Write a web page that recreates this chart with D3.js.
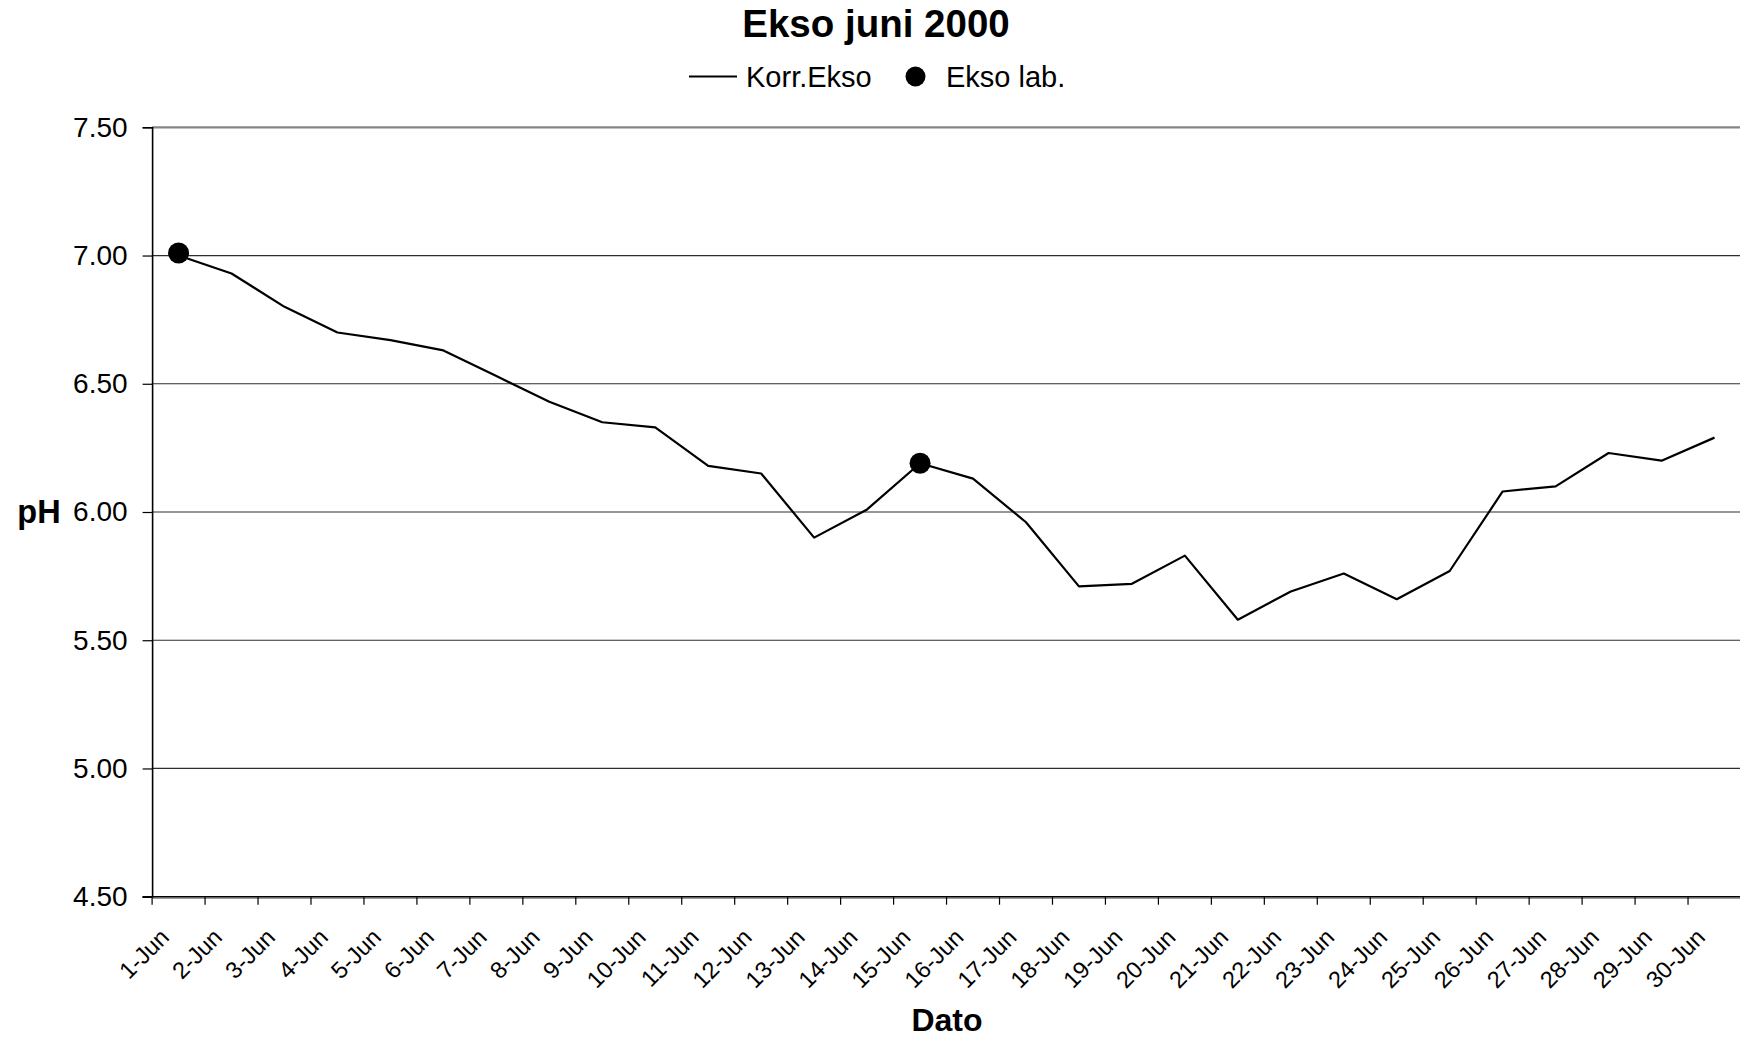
<!DOCTYPE html>
<html>
<head>
<meta charset="utf-8">
<script src="https://cdn.jsdelivr.net/npm/d3@7"></script>
<style>
  html, body { margin: 0; padding: 0; background: #fff; }
  svg { display: block; font-family: "Liberation Sans", Arial, sans-serif; }
</style>
</head>
<body>
<svg id="chart" width="1740" height="1040"></svg>
<script>
// Daily dates for June 2000
const dates = ["1-Jun","2-Jun","3-Jun","4-Jun","5-Jun","6-Jun","7-Jun","8-Jun","9-Jun","10-Jun",
  "11-Jun","12-Jun","13-Jun","14-Jun","15-Jun","16-Jun","17-Jun","18-Jun","19-Jun","20-Jun",
  "21-Jun","22-Jun","23-Jun","24-Jun","25-Jun","26-Jun","27-Jun","28-Jun","29-Jun","30-Jun"];

// Corrected online pH (Korr.Ekso)
const korrEkso = [7.00, 6.93, 6.80, 6.70, 6.67, 6.63, 6.53, 6.43, 6.35, 6.33,
  6.18, 6.15, 5.90, 6.01, 6.19, 6.13, 5.96, 5.71, 5.72, 5.83,
  5.58, 5.69, 5.76, 5.66, 5.77, 6.08, 6.10, 6.23, 6.20, 6.29];

// Laboratory samples (Ekso lab.)
const eksoLabDates = ["1-Jun", "15-Jun"];
const eksoLabValues = [7.01, 6.19];

// Y-axis tick values
const yTicks = [4.5, 5.0, 5.5, 6.0, 6.5, 7.0, 7.5];

const svg = d3.select("#chart");
const plot = { left: 152.1, right: 1741, top: 127.3, bottom: 896.7 };

const x = d3.scaleBand().domain(dates).range([plot.left, plot.right]).padding(0);
const y = d3.scaleLinear().domain([4.5, 7.5]).range([plot.bottom, plot.top]);
const cx = d => x(d) + x.bandwidth() / 2;

// Horizontal gridlines
svg.append("g")
  .selectAll("line")
  .data(yTicks.filter(v => v > 4.5 && v < 7.5))
  .join("line")
  .attr("x1", plot.left).attr("x2", plot.right)
  .attr("y1", d => y(d)).attr("y2", d => y(d))
  .attr("stroke", "#2e2e2e").attr("stroke-width", 1.2);

// Plot-area top border
svg.append("line")
  .attr("x1", plot.left).attr("x2", plot.right)
  .attr("y1", y(7.5)).attr("y2", y(7.5))
  .attr("stroke", "#858585").attr("stroke-width", 2.2);

// Y axis
const yAxis = d3.axisLeft(y)
  .tickValues(yTicks)
  .tickFormat(d3.format(".2f"))
  .tickSize(9.5)
  .tickPadding(15);
const gy = svg.append("g")
  .attr("transform", `translate(${plot.left},0)`)
  .call(yAxis);
gy.select(".domain").attr("stroke", "#000").attr("stroke-width", 1.6);
gy.selectAll(".tick line").attr("stroke", "#000").attr("stroke-width", 1.2);
gy.selectAll(".tick text")
  .attr("font-size", 28)
  .attr("fill", "#000")
  .attr("font-family", "'Liberation Sans', Arial, sans-serif");

// X axis line (with soft border underneath)
svg.append("line")
  .attr("x1", plot.left).attr("x2", plot.right)
  .attr("y1", plot.bottom + 1.5).attr("y2", plot.bottom + 1.5)
  .attr("stroke", "#9a9a9a").attr("stroke-width", 1.5);
svg.append("line")
  .attr("x1", plot.left - 9.5).attr("x2", plot.right)
  .attr("y1", plot.bottom).attr("y2", plot.bottom)
  .attr("stroke", "#000").attr("stroke-width", 1.6);

// X ticks between categories
svg.append("g")
  .selectAll("line")
  .data(dates)
  .join("line")
  .attr("x1", d => x(d)).attr("x2", d => x(d))
  .attr("y1", plot.bottom).attr("y2", plot.bottom + 8)
  .attr("stroke", "#000").attr("stroke-width", 1.2);

// Rotated date labels
svg.append("g")
  .selectAll("text")
  .data(dates)
  .join("text")
  .attr("transform", d => `translate(${cx(d) - 8},${plot.bottom + 42}) rotate(-45)`)
  .attr("text-anchor", "end")
  .attr("font-size", 23.5)
  .attr("fill", "#000")
  .text(d => d);

// Korr.Ekso line
const line = d3.line()
  .x((d, i) => cx(dates[i]))
  .y(d => y(d));
svg.append("path")
  .datum(korrEkso)
  .attr("d", line)
  .attr("fill", "none")
  .attr("stroke", "#000")
  .attr("stroke-width", 2.2)
  .attr("stroke-linejoin", "round");

// Ekso lab. points
svg.append("g")
  .selectAll("circle")
  .data(eksoLabValues)
  .join("circle")
  .attr("cx", (d, i) => cx(eksoLabDates[i]))
  .attr("cy", d => y(d))
  .attr("r", 10.5)
  .attr("fill", "#000");

// Title
svg.append("text")
  .attr("x", 876).attr("y", 37)
  .attr("text-anchor", "middle")
  .attr("font-size", 38.5)
  .attr("font-weight", "bold")
  .text("Ekso juni 2000");

// Legend
const lg = svg.append("g");
lg.append("line")
  .attr("x1", 689).attr("x2", 737)
  .attr("y1", 76.5).attr("y2", 76.5)
  .attr("stroke", "#000").attr("stroke-width", 2);
lg.append("text")
  .attr("x", 746).attr("y", 87)
  .attr("font-size", 29)
  .text("Korr.Ekso");
lg.append("circle")
  .attr("cx", 915.5).attr("cy", 76.5)
  .attr("r", 10)
  .attr("fill", "#000");
lg.append("text")
  .attr("x", 946).attr("y", 87)
  .attr("font-size", 29)
  .text("Ekso lab.");

// Axis titles
svg.append("text")
  .attr("x", 39).attr("y", 523)
  .attr("text-anchor", "middle")
  .attr("font-size", 32.5)
  .attr("font-weight", "bold")
  .text("pH");

svg.append("text")
  .attr("x", 947).attr("y", 1031)
  .attr("text-anchor", "middle")
  .attr("font-size", 32)
  .attr("font-weight", "bold")
  .text("Dato");
</script>
</body>
</html>
